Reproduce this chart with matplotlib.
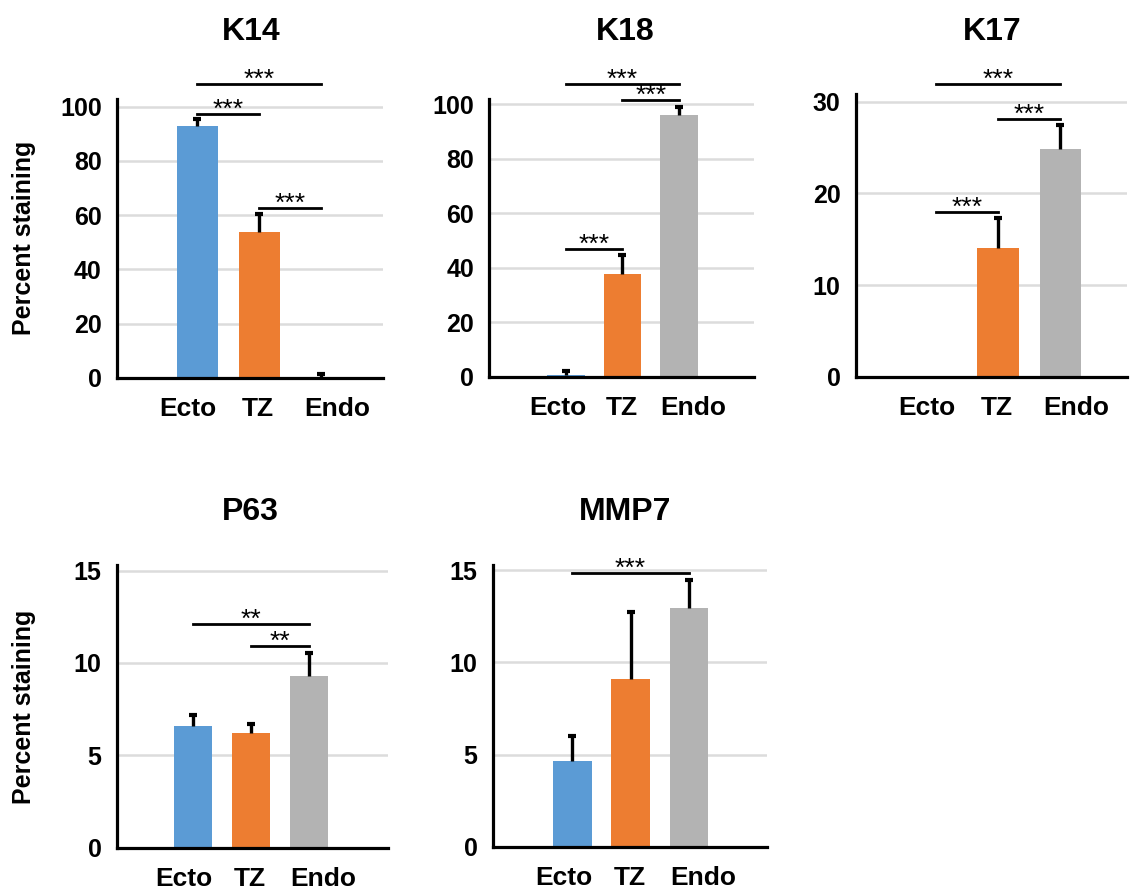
import matplotlib
matplotlib.use("Agg")
import matplotlib.pyplot as plt

plt.rcParams['font.family'] = ['Liberation Sans', 'DejaVu Sans']

# ---- data ----
categories = ['Ecto', 'TZ', 'Endo']
bar_colors = ['#5B9BD5', '#ED7D31', '#B3B3B3']

k14_mean = [92.9, 53.9, 0.3]
k14_err = [2.5, 6.6, 1.0]
k14_sig = [(0, 2, 108.4, '***'), (0, 1, 97.3, '***'), (1, 2, 62.5, '***')]

k18_mean = [0.8, 37.7, 96.1]
k18_err = [1.2, 6.9, 3.0]
k18_sig = [(0, 2, 107.3, '***'), (1, 2, 101.6, '***'), (0, 1, 46.8, '***')]

k17_mean = [0.0, 14.0, 24.8]
k17_err = [0.0, 3.35, 2.65]
k17_sig = [(0, 2, 31.9, '***'), (1, 2, 28.07, '***'), (0, 1, 18.0, '***')]

p63_mean = [6.59, 6.23, 9.3]
p63_err = [0.58, 0.45, 1.26]
p63_sig = [(0, 2, 12.11, '**'), (1, 2, 10.92, '**')]

mmp7_mean = [4.66, 9.11, 12.93]
mmp7_err = [1.36, 3.6, 1.53]
mmp7_sig = [(0, 2, 14.83, '***')]

W, H = 1132, 891
fig = plt.figure(figsize=(W / 100, H / 100), dpi=100)

# layout in pixels: left, right, y of zero, y of top, ylim top, xlim, ticks, title pos
panels = [
    ('K14', k14_mean, k14_err, k14_sig, (117, 383, 377.7, 98.6), 103, (-1.29, 2.99),
     [0, 20, 40, 60, 80, 100], (251, 40), True),
    ('K18', k18_mean, k18_err, k18_sig, (489.3, 754, 376.7, 98.9), 102, (-1.36, 3.33),
     [0, 20, 40, 60, 80, 100], (625, 40), False),
    ('K17', k17_mean, k17_err, k17_sig, (856, 1127, 376.7, 94.3), 30.8, (-1.28, 3.07),
     [0, 10, 20, 30], (992, 40), False),
    ('P63', p63_mean, p63_err, p63_sig, (116.7, 388.3, 847.7, 565.1), 15.3, (-1.31, 3.36),
     [0, 5, 10, 15], (250, 520), True),
    ('MMP7', mmp7_mean, mmp7_err, mmp7_sig, (492.7, 766.7, 846.7, 564.6), 15.3, (-1.37, 3.34),
     [0, 5, 10, 15], (625, 520), False),
]

x = list(range(len(categories)))
label_shift = [-0.15, -0.02, 0.25]  # category labels sit slightly spread out

for title, mean, err, sig, (lp, rp, y0, yt), ytop, xl, ticks, (tx, ty), show_ylabel in panels:
    ax = fig.add_axes([lp / W, 1 - y0 / H, (rp - lp) / W, (y0 - yt) / H])
    ax.set_ylim(0, ytop)
    ax.set_xlim(*xl)
    ax.set_yticks(ticks)
    for t in ticks[1:]:
        ax.axhline(t, color='#DCDCDC', lw=1.8, zorder=0)
    ax.bar(x, mean, width=0.66, color=bar_colors, zorder=2)
    # upper-only error bars with a single cap
    for xi, m, e in zip(x, mean, err):
        if e > 0:
            ax.vlines(xi, m, m + e, color='black', lw=2.4, zorder=3)
            ax.plot([xi], [m + e], marker='_', ms=6, mew=3, color='black', zorder=3)
    for a, b, yy, stars in sig:
        ax.plot([a, b], [yy, yy], color='black', lw=2, clip_on=False, zorder=4)
        ax.annotate(stars, xy=((a + b) / 2, yy), xytext=(0, -2),
                    textcoords='offset points', ha='center', va='baseline',
                    fontsize=19, annotation_clip=False)
    ax.set_xticks([xi + d for xi, d in zip(x, label_shift)])
    ax.set_xticklabels(categories, fontsize=19, fontweight='bold')
    ax.set_yticklabels([str(t) for t in ticks], fontsize=18, fontweight='bold')
    ax.tick_params(axis='both', length=0)
    ax.tick_params(axis='x', pad=14)
    ax.tick_params(axis='y', pad=11)
    for s in ['top', 'right']:
        ax.spines[s].set_visible(False)
    for s in ['left', 'bottom']:
        ax.spines[s].set_linewidth(2.3)
    if show_ylabel:
        ax.set_ylabel('Percent staining', fontsize=18, fontweight='bold')
        ax.yaxis.set_label_coords((36 - lp) / (rp - lp), 0.5)
    fig.text(tx / W, 1 - ty / H, title, ha='center', va='baseline',
             fontsize=23, fontweight='bold')

fig.savefig('out.png', dpi=100)
